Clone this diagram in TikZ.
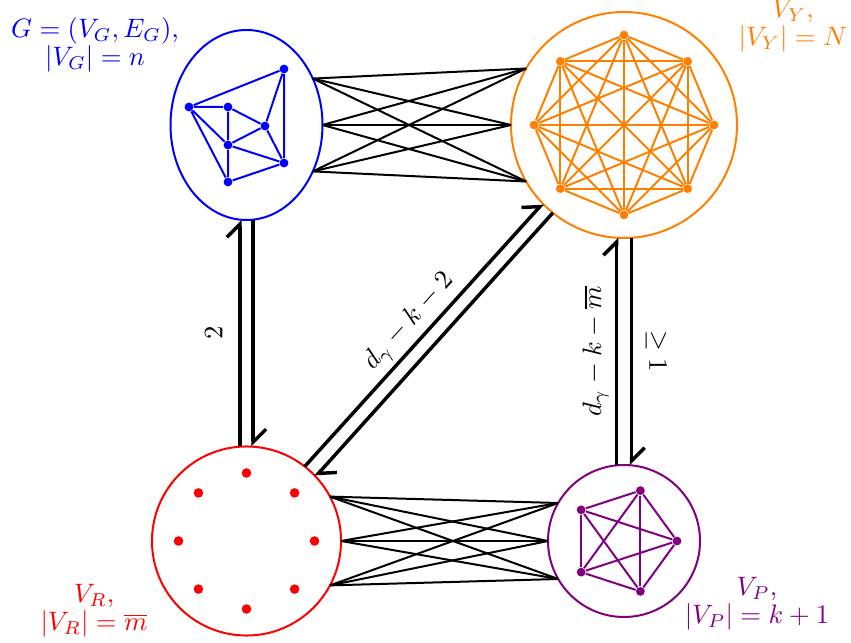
\documentclass[tikz,border=0pt]{standalone}
\usetikzlibrary{arrows.meta,shapes.geometric}
\definecolor{gblue}{RGB}{0,0,255}
\definecolor{yorange}{RGB}{255,128,0}
\definecolor{rred}{RGB}{255,0,0}
\definecolor{ppurple}{RGB}{128,0,128}
\begin{document}
\begin{tikzpicture}[x=0.375pt,y=-0.375pt,
  setshape/.style={draw, line width=0.75pt, inner sep=0pt, outer sep=0pt},
  vdot/.style={circle, fill, inner sep=0pt, minimum size=3.3pt},
  rdot/.style={circle, fill, inner sep=0pt, minimum size=3.6pt},
  gedge/.style={line width=0.75pt},
  bundle/.style={black, line width=0.75pt},
  dbl/.style={black, line width=1.3pt, -{Straight Barb[left,length=4.9pt,width=9.8pt]}},
  lab/.style={align=center, inner sep=0pt}
]
\useasboundingbox (0,0) rectangle (851,643);

\node[setshape, ellipse, gblue, minimum width=57pt, minimum height=71.25pt] (G) at (246.5,125) {};
\node[setshape, circle, yorange, minimum size=84.75pt] (Y) at (624,125) {};
\node[setshape, circle, rred, minimum size=70.9pt] (R) at (246.5,541) {};
\node[setshape, circle, ppurple, minimum size=57pt] (P) at (624,541) {};

% graph G
\begin{scope}[gblue]
\node[vdot] (g1) at (189,107) {};
\node[vdot] (g2) at (228,107) {};
\node[vdot] (g3) at (284,69) {};
\node[vdot] (g4) at (265,126) {};
\node[vdot] (g5) at (228,145) {};
\node[vdot] (g6) at (284,163) {};
\node[vdot] (g7) at (228,182) {};
\draw[gedge] (g1)--(g3) (g1)--(g2) (g1)--(g5) (g1)--(g7) (g2)--(g5) (g2)--(g4)
  (g3)--(g4) (g3)--(g6) (g4)--(g5) (g4)--(g6) (g5)--(g6) (g5)--(g7) (g7)--(g6);
\end{scope}

% K8
\begin{scope}[yorange]
\foreach \i in {1,...,8} {\path (624,125) ++(\i*45:90) node[vdot] (y\i) {};}
\foreach \i in {1,...,7} {
  \pgfmathtruncatemacro\nxt{\i+1}
  \foreach \j in {\nxt,...,8} {\draw[gedge] (y\i) -- (y\j);}
}
\end{scope}

% red dots
\foreach \i in {1,...,8} {\path (246.5,541) ++(\i*45:68) node[rdot, rred] (r\i) {};}

% K5
\begin{scope}[ppurple]
\foreach \i in {1,...,5} {\path (624,541) ++(\i*72-72:53) node[vdot] (p\i) {};}
\foreach \i in {1,...,4} {
  \pgfmathtruncatemacro\nxt{\i+1}
  \foreach \j in {\nxt,...,5} {\draw[gedge] (p\i) -- (p\j);}
}
\end{scope}

% bundles
\foreach \a in {35,0,325} {\foreach \b in {150,180,210} {\draw[bundle] (G.\a) -- (Y.\b);}}
\foreach \a in {28,0,332} {\foreach \b in {150,180,210} {\draw[bundle] (R.\a) -- (P.\b);}}

% double arrows
\draw[dbl] ([xshift=-2.44pt]R.north) -- ([xshift=-2.44pt]G.south)
  node[midway, sloped, above=2.6pt] {$2$};
\draw[dbl] ([xshift=2.44pt]G.south) -- ([xshift=2.44pt]R.north);

\draw[dbl] ([xshift=-2.81pt]P.north) -- ([xshift=-2.81pt]Y.south)
  node[midway, sloped, above=-1.1pt] {$d_\gamma-k-\overline{m}$};
\draw[dbl] ([xshift=2.81pt]Y.south) -- ([xshift=2.81pt]P.north)
  node[midway, sloped, above=1.4pt] {$\geq 1$};

\draw[dbl] (R.52.1) -- (Y.224.2)
  node[midway, sloped, above=-1.75pt] {$d_\gamma-k-2$};
\draw[dbl] (Y.231.4) -- (R.43.5);

% labels
\node[lab, gblue] (GL) at (95,45) {$G=(V_G,E_G)$,\\[-1.5pt]$|V_G|=n$};
\node[lab, yorange] (YL) at (793,26) {$V_Y$,\\[-1.5pt]$|V_Y|=N$};
\node[lab, rred] (RL) at (94,611) {$V_R$,\\[-1.5pt]$|V_R|=\overline{m}$};
\node[lab, ppurple] (PL) at (757,604) {$V_P$,\\[-1.5pt]$|V_P|=k+1$};
\end{tikzpicture}
\end{document}
